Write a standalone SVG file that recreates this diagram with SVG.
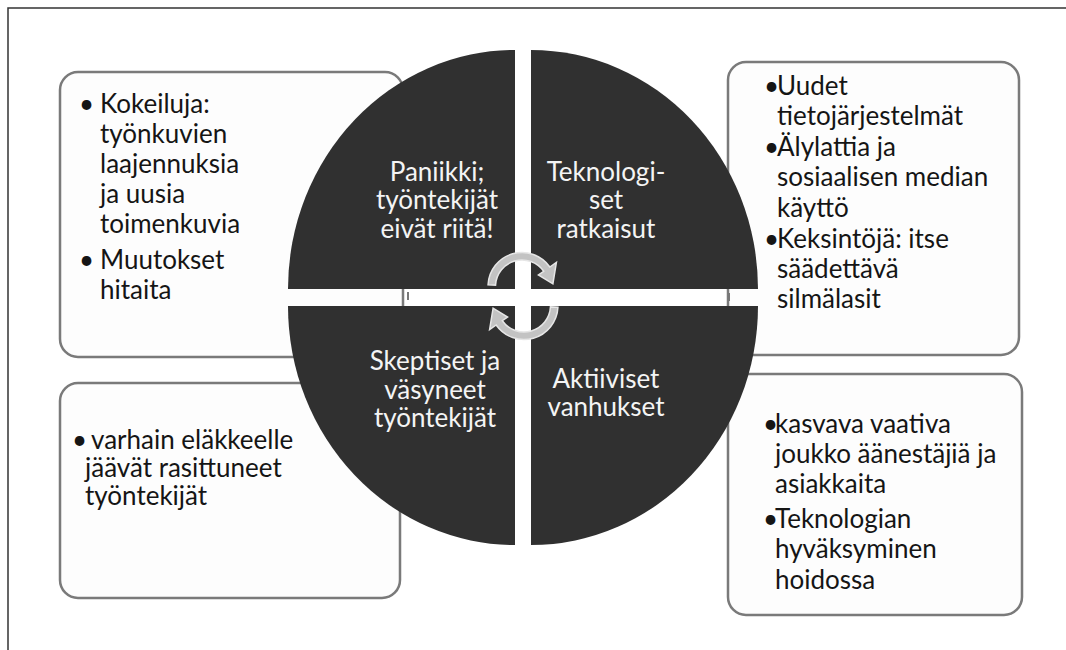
<svg xmlns="http://www.w3.org/2000/svg" width="1066" height="650" viewBox="0 0 1066 650">
<defs>
<style>
.box{fill:#fdfdfd;stroke:#7a7a7a;stroke-width:2.5}
.quad{fill:#303030}
.t{font-family:Lato,"Liberation Sans",sans-serif;font-size:26px;fill:#151515}
.q{font-family:Lato,"Liberation Sans",sans-serif;font-size:26px;fill:#f4f4f4;text-anchor:middle}
.tick{stroke:#777;stroke-width:2}
.arrow{fill:#c3c3c3;stroke:#e6e6e6;stroke-width:1.5}
</style>
<path id="arc" d="M -33.95,-1.78 A 34 34 0 0 1 27.85,-19.5 L 34.4,-24.1 L 30.9,-2.7 L 16.4,-11.5 L 21.7,-15.2 A 26.5 26.5 0 0 0 -26.46,-1.39 Z"/>
</defs>
<rect width="1066" height="650" fill="#ffffff"/>
<path d="M8,650 L8,8 L1066,8" fill="none" stroke="#333" stroke-width="1.5"/>

<g id="box-tl">
<rect class="box" x="60" y="72" width="343" height="285" rx="18"/>
<text class="t" x="79" y="113">•<tspan x="100">Kokeiluja:</tspan><tspan x="100" dy="30">työnkuvien</tspan><tspan x="100" dy="30">laajennuksia</tspan><tspan x="100" dy="30">ja uusia</tspan><tspan x="100" dy="30">toimenkuvia</tspan></text>
<text class="t" x="79" y="269">•<tspan x="100">Muutokset</tspan><tspan x="100" dy="30">hitaita</tspan></text>
</g>

<g id="box-tr">
<rect class="box" x="728" y="62" width="291" height="293" rx="18"/>
<text class="t" x="764" y="95">•<tspan x="777">Uudet</tspan><tspan x="777" dy="30">tietojärjestelmät</tspan></text>
<text class="t" x="764" y="156">•<tspan x="777">Älylattia ja</tspan><tspan x="777" dy="30">sosiaalisen median</tspan><tspan x="777" dy="31">käyttö</tspan></text>
<text class="t" x="764" y="248">•<tspan x="777">Keksintöjä: itse</tspan><tspan x="777" dy="30">säädettävä</tspan><tspan x="777" dy="30">silmälasit</tspan></text>
</g>

<g id="box-bl">
<rect class="box" x="60" y="383" width="340" height="215" rx="18"/>
<text class="t" x="72" y="449">•<tspan x="91">varhain eläkkeelle</tspan><tspan x="85" dy="28">jäävät rasittuneet</tspan><tspan x="85" dy="28">työntekijät</tspan></text>
</g>

<g id="box-br">
<rect class="box" x="728" y="374" width="294" height="241" rx="18"/>
<text class="t" x="763" y="433">•<tspan x="775">kasvava vaativa</tspan><tspan x="775" dy="30">joukko äänestäjiä ja</tspan><tspan x="775" dy="30">asiakkaita</tspan></text>
<text class="t" x="763" y="528">•<tspan x="775">Teknologian</tspan><tspan x="775" dy="30">hyväksyminen</tspan><tspan x="775" dy="31">hoidossa</tspan></text>
</g>

<g id="connectors">
<line class="tick" x1="408" y1="292" x2="408" y2="300"/>
<line class="tick" x1="729" y1="293" x2="729" y2="301"/>
</g>

<g id="q-tl">
<path class="quad" d="M515,289 L288,289 A227 239 0 0 1 515,50 Z"/>
<text class="q" x="437" y="181">Paniikki;<tspan x="437" dy="28">työntekijät</tspan><tspan x="437" dy="29">eivät riitä!</tspan></text>
</g>

<g id="q-tr">
<path class="quad" d="M531,289 L531,50 A227 239 0 0 1 758,289 Z"/>
<text class="q" x="606" y="181">Teknologi-<tspan x="606" dy="28">set</tspan><tspan x="606" dy="29">ratkaisut</tspan></text>
</g>

<g id="q-bl">
<path class="quad" d="M515,306 L515,545 A227 239 0 0 1 288,306 Z"/>
<text class="q" x="435" y="370">Skeptiset ja<tspan x="435" dy="29">väsyneet</tspan><tspan x="435" dy="28">työntekijät</tspan></text>
</g>

<g id="q-br">
<path class="quad" d="M531,306 L758,306 A227 239 0 0 1 531,545 Z"/>
<text class="q" x="606" y="388">Aktiiviset<tspan x="606" dy="28">vanhukset</tspan></text>
</g>

<g id="cycle-arrows">
<use href="#arc" class="arrow" transform="translate(522,286.5)"/>
<use href="#arc" class="arrow" transform="translate(524,305.5) rotate(180)"/>
</g>
</svg>
